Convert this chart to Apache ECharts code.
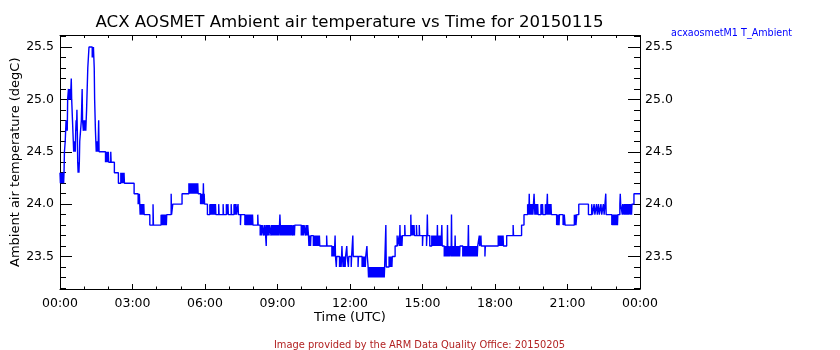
<!DOCTYPE html>
<html><head><meta charset="utf-8">
<script src="https://cdn.jsdelivr.net/npm/echarts@6/dist/echarts.min.js"></script>
<style>html,body{margin:0;padding:0;background:#fff}#c{width:840px;height:350px}</style>
</head><body><div id="c"></div>
<script>
// ---- text ----
const chartTitle = 'ACX AOSMET Ambient air temperature vs Time for 20150115';
const seriesLabel = 'acxaosmetM1 T_Ambient';
const xName = 'Time (UTC)';
const yName = 'Ambient air temperature (degC)';
const footer = 'Image provided by the ARM Data Quality Office: 20150205';
// ---- axes ----
const xTickLabels = ['00:00','03:00','06:00','09:00','12:00','15:00','18:00','21:00','00:00'];
const yTickValues = [23.5, 24.0, 24.5, 25.0, 25.5];
const yTickLabels = ['23.5','24.0','24.5','25.0','25.5'];
const yRange = [23.19, 25.61];
// ---- data: [minute of day (UTC), temperature degC] ----
const seg0003 = [[0,24.3],[1,24.2],[2,24.3],[3,24.2],[4,24.3],[5,24.2],[6,24.3],[7,24.2],[8,24.3],[9,24.2],[10,24.3],[11,24.5],[13,24.6],[15,24.8],[16,24.7],[17,24.8],[18,24.7],[19,25.0],[21,25.1],[22,25.0],[23,25.1],[24,25.0],[25,25.1],[26,25.0],[28,25.2],[29,25.0],[31,24.8],[33,24.6],[34,24.5],[35,24.6],[36,24.5],[37,24.6],[38,24.5],[39,24.7],[40,24.8],[41,24.7],[42,24.9],[43,24.7],[44,24.4],[45,24.3],[46,24.4],[47,24.3],[48,24.4],[49,24.6],[51,24.7],[53,24.8],[55,25.1],[56,24.8],[58,24.7],[59,24.8],[60,24.7],[61,24.8],[62,24.7],[63,24.8],[64,24.7],[65,24.8],[66,24.9],[69,25.3],[72,25.5],[80,25.4],[81,25.5],[82,25.4],[83,25.5],[84,25.4],[85,25.3],[86,25.0],[88,24.7],[89,24.6],[90,24.5],[91,24.6],[92,24.5],[93,24.6],[94,24.5],[95,24.6],[96,24.8],[97,24.5],[113,24.4],[114,24.5],[115,24.4],[116,24.5],[117,24.4],[118,24.5],[119,24.4],[120,24.5],[121,24.4],[126,24.5],[127,24.4],[135,24.3],[145,24.2],[151,24.3],[152,24.2],[153,24.3],[154,24.2],[155,24.3],[156,24.2],[157,24.3],[158,24.2],[159,24.3],[160,24.2]];
const seg0306 = [[184,24.1],[194,24.0],[195,24.1],[196,24.0],[197,24.1],[198,24.0],[199,23.9],[200,24.0],[201,23.9],[202,24.0],[203,23.9],[204,24.0],[205,23.9],[206,24.0],[207,23.9],[208,24.0],[209,23.9],[223,23.8],[231,24.0],[232,23.8],[251,23.9],[252,23.8],[253,23.9],[254,23.8],[255,23.9],[256,23.8],[257,23.9],[258,23.8],[259,23.9],[260,23.8],[261,23.9],[262,23.8],[263,23.9],[264,23.8],[265,23.9],[276,24.1],[277,23.9],[280,24.0],[303,24.1],[320,24.2],[321,24.1],[322,24.2],[323,24.1],[324,24.2],[325,24.1],[326,24.2],[327,24.1],[328,24.2],[329,24.1],[330,24.2],[331,24.1],[332,24.2],[333,24.1],[334,24.2],[335,24.1],[336,24.2],[337,24.1],[338,24.2],[339,24.1],[340,24.2],[341,24.1],[342,24.2],[343,24.1],[349,24.0],[350,24.1],[351,24.0],[352,24.1],[353,24.0],[354,24.1],[355,24.0],[356,24.2],[357,24.0],[358,24.1],[359,24.0]];
const seg0609 = [[366,23.9],[372,24.0],[373,23.9],[374,24.0],[375,23.9],[376,24.0],[377,23.9],[378,24.0],[379,23.9],[380,24.0],[381,23.9],[382,24.0],[383,23.9],[384,24.0],[385,23.9],[386,24.0],[387,23.9],[394,24.0],[395,23.9],[405,24.0],[406,23.9],[413,24.0],[414,23.9],[417,24.0],[418,23.9],[425,24.0],[426,23.9],[432,24.0],[433,23.9],[434,24.0],[435,23.9],[437,24.0],[438,23.9],[442,24.0],[443,23.9],[448,23.8],[449,23.9],[459,23.8],[460,23.9],[461,23.8],[462,23.9],[463,23.8],[464,23.9],[465,23.8],[466,23.9],[467,23.8],[468,23.9],[469,23.8],[470,23.9],[471,23.8],[472,23.9],[473,23.8],[474,23.9],[475,23.8],[476,23.9],[477,23.8],[478,23.9],[479,23.8],[491,23.9],[492,23.8],[497,23.7],[498,23.8],[499,23.7],[500,23.8],[501,23.7],[502,23.8],[506,23.7],[507,23.8],[508,23.7],[509,23.8],[512,23.6],[513,23.8],[515,23.7],[516,23.8],[517,23.7],[518,23.8],[519,23.7],[520,23.8],[524,23.7],[525,23.8],[526,23.7],[527,23.8],[528,23.7],[529,23.8],[530,23.7],[531,23.8],[532,23.7],[533,23.8],[534,23.7],[535,23.8],[536,23.7],[537,23.8],[538,23.7],[539,23.8]];
const seg0912 = [[540,23.7],[541,23.8],[542,23.7],[543,23.8],[544,23.7],[545,23.8],[546,23.9],[547,23.8],[548,23.7],[549,23.8],[550,23.7],[551,23.8],[552,23.7],[553,23.8],[554,23.7],[555,23.8],[556,23.7],[557,23.8],[558,23.7],[559,23.8],[560,23.7],[561,23.8],[562,23.7],[563,23.8],[564,23.7],[565,23.8],[566,23.7],[567,23.8],[568,23.7],[569,23.8],[570,23.7],[571,23.8],[572,23.7],[573,23.8],[574,23.7],[575,23.8],[578,23.7],[579,23.8],[580,23.7],[581,23.8],[582,23.7],[583,23.8],[599,23.7],[600,23.8],[601,23.7],[602,23.8],[603,23.7],[604,23.8],[605,23.7],[606,23.8],[610,23.7],[611,23.8],[612,23.7],[613,23.8],[614,23.7],[615,23.8],[617,23.7],[618,23.6],[619,23.7],[620,23.6],[621,23.7],[622,23.6],[623,23.7],[629,23.6],[630,23.7],[631,23.6],[632,23.7],[633,23.6],[634,23.7],[635,23.6],[636,23.7],[637,23.6],[638,23.7],[639,23.6],[640,23.7],[641,23.6],[642,23.7],[643,23.6],[644,23.7],[645,23.6],[662,23.7],[663,23.6],[675,23.5],[676,23.6],[677,23.5],[678,23.6],[679,23.5],[680,23.6],[681,23.5],[682,23.6],[683,23.7],[684,23.5],[686,23.4],[687,23.5],[694,23.4],[695,23.5],[696,23.4],[697,23.5],[698,23.4],[699,23.5],[700,23.6],[701,23.5],[703,23.4],[704,23.5],[706,23.4],[707,23.5],[708,23.4],[709,23.5],[712,23.6],[713,23.5],[716,23.4],[717,23.5]];
const seg1215 = [[723,23.4],[724,23.5],[727,23.7],[728,23.5],[740,23.4],[741,23.5],[750,23.4],[751,23.5],[752,23.4],[753,23.5],[754,23.4],[755,23.5],[756,23.4],[757,23.5],[758,23.4],[759,23.5],[762,23.6],[763,23.5],[765,23.4],[766,23.3],[767,23.4],[768,23.3],[769,23.4],[770,23.3],[771,23.4],[772,23.3],[773,23.4],[775,23.3],[776,23.4],[777,23.3],[778,23.4],[779,23.3],[780,23.4],[781,23.3],[782,23.4],[784,23.3],[785,23.4],[786,23.3],[787,23.4],[788,23.3],[789,23.4],[790,23.3],[791,23.4],[792,23.3],[793,23.4],[795,23.3],[796,23.4],[797,23.3],[798,23.4],[799,23.3],[800,23.4],[801,23.3],[802,23.4],[803,23.3],[804,23.4],[805,23.3],[806,23.4],[809,23.8],[810,23.4],[817,23.5],[818,23.4],[819,23.5],[820,23.4],[821,23.5],[822,23.4],[823,23.5],[824,23.4],[825,23.5],[832,23.6],[837,23.7],[838,23.6],[842,23.7],[843,23.6],[844,23.8],[845,23.6],[846,23.7],[847,23.6],[848,23.7],[849,23.6],[850,23.7],[856,23.8],[857,23.7],[871,23.9],[872,23.7],[873,23.8],[874,23.7],[875,23.8],[876,23.7],[877,23.8],[878,23.7],[879,23.8],[880,23.7],[885,23.8],[886,23.7],[892,23.8],[893,23.7]];
const seg1518 = [[900,23.6],[901,23.7],[910,23.6],[911,23.7],[912,23.9],[913,23.7],[918,23.6],[923,23.7],[924,23.6],[925,23.7],[926,23.6],[927,23.7],[928,23.6],[930,23.7],[931,23.6],[932,23.7],[933,23.6],[935,23.7],[936,23.6],[937,23.8],[938,23.6],[939,23.7],[940,23.6],[942,23.7],[943,23.6],[945,23.7],[946,23.6],[947,23.7],[948,23.8],[949,23.6],[954,23.5],[956,23.6],[957,23.5],[958,23.6],[959,23.5],[960,23.6],[961,23.5],[962,23.8],[963,23.5],[964,23.6],[965,23.5],[966,23.6],[967,23.5],[970,23.6],[971,23.5],[972,23.9],[973,23.5],[974,23.6],[975,23.5],[976,23.6],[977,23.5],[978,23.6],[980,23.5],[981,23.7],[982,23.5],[983,23.6],[984,23.5],[985,23.6],[986,23.5],[987,23.6],[988,23.5],[989,23.6],[990,23.5],[991,23.6],[992,23.5],[993,23.6],[1000,23.5],[1001,23.6],[1002,23.5],[1003,23.6],[1004,23.5],[1005,23.6],[1006,23.5],[1007,23.6],[1008,23.5],[1009,23.6],[1010,23.5],[1011,23.6],[1012,23.5],[1013,23.6],[1014,23.8],[1015,23.5],[1016,23.6],[1017,23.5],[1018,23.6],[1019,23.5],[1020,23.6],[1021,23.5],[1022,23.6],[1024,23.5],[1025,23.6],[1026,23.5],[1027,23.6],[1028,23.5],[1029,23.6],[1030,23.5],[1031,23.6],[1032,23.5],[1033,23.6],[1034,23.5],[1035,23.6],[1036,23.5],[1037,23.6],[1041,23.7],[1042,23.6],[1045,23.7],[1046,23.6],[1055,23.5],[1056,23.6]];
const seg1821 = [[1088,23.7],[1089,23.6],[1090,23.7],[1091,23.6],[1092,23.7],[1093,23.6],[1094,23.7],[1095,23.6],[1096,23.7],[1097,23.6],[1098,23.7],[1099,23.6],[1100,23.7],[1101,23.6],[1109,23.7],[1125,23.8],[1126,23.7],[1146,23.8],[1152,23.9],[1161,24.0],[1162,23.9],[1163,24.0],[1164,23.9],[1165,24.1],[1166,23.9],[1167,24.0],[1168,23.9],[1169,24.0],[1170,23.9],[1171,24.0],[1172,23.9],[1173,24.0],[1174,23.9],[1177,24.1],[1178,24.0],[1179,23.9],[1180,24.0],[1181,23.9],[1182,24.0],[1183,23.9],[1184,24.0],[1185,23.9],[1186,24.0],[1187,23.9],[1194,24.0],[1195,23.9],[1196,24.0],[1197,23.9],[1198,24.0],[1199,23.9],[1205,24.0],[1206,23.9],[1207,24.0],[1208,23.9],[1210,24.1],[1211,23.9],[1213,24.0],[1214,23.9],[1216,24.0],[1217,23.9],[1219,24.0],[1220,23.9],[1233,23.8],[1234,23.9],[1235,23.8],[1236,23.9],[1237,23.8],[1238,23.9],[1239,23.8],[1240,23.9],[1249,23.8],[1250,23.9],[1251,23.8],[1252,23.9],[1254,23.8]];
const seg2124 = [[1277,23.9],[1278,23.8],[1280,23.9],[1281,23.8],[1283,23.9],[1288,24.0],[1312,23.9],[1320,24.0],[1322,23.9],[1326,24.0],[1328,23.9],[1332,24.0],[1334,23.9],[1337,24.0],[1339,23.9],[1343,24.0],[1345,23.9],[1349,24.0],[1351,23.9],[1355,24.1],[1356,23.9],[1370,23.8],[1371,23.9],[1372,23.8],[1373,23.9],[1374,23.8],[1375,23.9],[1376,23.8],[1377,23.9],[1378,23.8],[1379,23.9],[1380,23.8],[1381,23.9],[1382,23.8],[1383,23.9],[1384,23.8],[1385,23.9],[1390,24.0],[1391,24.1],[1392,24.0],[1396,23.9],[1397,24.0],[1400,23.9],[1401,24.0],[1403,23.9],[1404,24.0],[1406,23.9],[1407,24.0],[1409,23.9],[1410,24.0],[1412,23.9],[1413,24.0],[1416,23.9],[1417,24.0],[1419,23.9],[1420,24.0],[1425,24.1],[1440,24.1]];

const samples = [].concat(seg0003, seg0306, seg0609, seg0912, seg1215, seg1518, seg1821, seg2124);

const FONT = 'DejaVu Sans';
const BLACK = '#000000';
function yLabel(v) {
  for (let i = 0; i < yTickValues.length; i++) if (Math.abs(v - yTickValues[i]) < 1e-6) return yTickLabels[i];
  return '';
}
function xLabel(v) {
  const i = Math.round(v / 180);
  return Math.abs(v - i * 180) < 1e-6 ? xTickLabels[i] : '';
}
const xCommon = {
  type: 'value', min: 0, max: 1440, interval: 180,
  axisLine: { show: true, onZero: false, lineStyle: { color: BLACK, width: 1 } },
  axisTick: { show: true, inside: true, length: 5, lineStyle: { color: BLACK, width: 1 } },
  minorTick: { show: true, splitNumber: 3, length: 2.5, lineStyle: { color: BLACK, width: 1 } },
  splitLine: { show: false }, minorSplitLine: { show: false }
};
const yCommon = {
  type: 'value', min: yRange[0], max: yRange[1], splitNumber: 5,
  axisLine: { show: true, onZero: false, lineStyle: { color: BLACK, width: 1 } },
  axisTick: { show: true, inside: true, length: 12, lineStyle: { color: BLACK, width: 1 } },
  minorTick: { show: true, splitNumber: 5, length: 6, lineStyle: { color: BLACK, width: 1 } },
  splitLine: { show: false }, minorSplitLine: { show: false }
};
const chart = echarts.init(document.getElementById('c'), null, { renderer: 'canvas' });
chart.setOption({
  animation: false,
  backgroundColor: '#ffffff',
  grid: { left: 60, right: 200, top: 35.5, bottom: 61, containLabel: false, outerBoundsMode: 'none' },
  xAxis: [
    Object.assign({}, xCommon, {
      position: 'bottom',
      axisLabel: { show: true, formatter: xLabel, color: BLACK, fontFamily: FONT, fontSize: 12.5, margin: 8 },
      name: xName, nameLocation: 'middle', nameGap: 22, nameMoveOverlap: false,
      nameTextStyle: { color: BLACK, fontFamily: FONT, fontSize: 13 }
    }),
    Object.assign({}, xCommon, { position: 'top', axisLabel: { show: false } })
  ],
  yAxis: [
    Object.assign({}, yCommon, {
      position: 'left',
      axisLabel: { show: true, formatter: yLabel, color: BLACK, fontFamily: FONT, fontSize: 12.5, margin: 6 },
      name: yName, nameLocation: 'middle', nameGap: 38, nameRotate: 90, nameMoveOverlap: false,
      nameTextStyle: { color: BLACK, fontFamily: FONT, fontSize: 13 }
    }),
    Object.assign({}, yCommon, {
      position: 'right',
      axisLabel: { show: true, formatter: yLabel, color: BLACK, fontFamily: FONT, fontSize: 12.5, margin: 5 }
    })
  ],
  graphic: [
    { type: 'text', x: 349.5, y: 23, style: { text: chartTitle, fill: BLACK, font: '16.6px "DejaVu Sans"', textAlign: 'center', textVerticalAlign: 'middle' } },
    { type: 'text', x: 671, y: 33, style: { text: seriesLabel, fill: '#0000ff', font: '9.6px "DejaVu Sans"', textAlign: 'left', textVerticalAlign: 'middle' } },
    { type: 'text', x: 419.5, y: 345, style: { text: footer, fill: '#b22222', font: '9.9px "DejaVu Sans"', textAlign: 'center', textVerticalAlign: 'middle' } }
  ],
  series: [{
    type: 'line', xAxisIndex: 0, yAxisIndex: 0, step: 'end',
    data: samples, showSymbol: false, symbol: 'none', silent: true,
    lineStyle: { color: '#0000ff', width: 1.4 }
  }]
});
</script></body></html>
